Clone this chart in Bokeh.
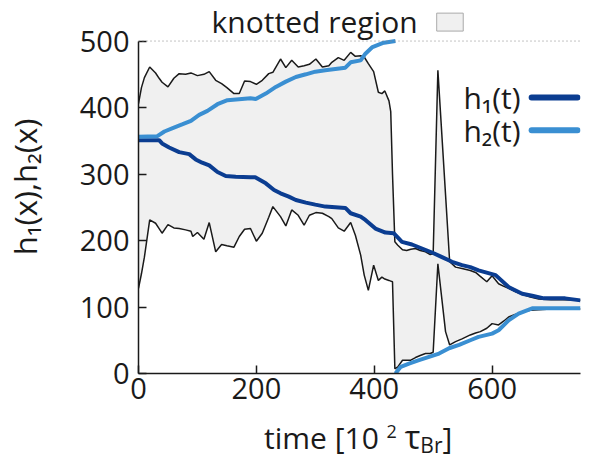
import numpy as np
from bokeh.plotting import figure
from bokeh.models import Range1d, FixedTicker, Span, Label, BoxAnnotation, Div
from bokeh.layouts import column
from bokeh.embed import file_html
from bokeh.resources import INLINE

# ---------------- data ----------------
X_TICKS = [0, 200, 400, 600]
Y_TICKS = [0, 100, 200, 300, 400, 500]

# knotted region boundaries (time in 10^2 tau_Br)
t_region = [0, 5, 10, 19, 29, 35, 40, 50, 60, 69,
            80, 89, 92, 100, 111, 120, 131, 141, 150, 162,
            171, 180, 190, 200, 210, 221, 228, 241, 250, 260,
            271, 281, 290, 301, 312, 323, 328, 339, 349, 360,
            368, 377, 383, 390, 399, 407, 413, 418, 425, 428,
            431, 435, 440, 448, 455, 462, 470, 478, 487, 495,
            500, 508, 521, 528, 538, 549, 563, 572, 580, 591,
            600, 611, 620, 628, 640, 651, 665, 679, 700, 720,
            750]
region_upper = [406, 430, 445, 461, 452, 444, 438, 431, 444, 451,
                450, 452, 451, 448, 450, 454, 441, 436, 430, 421,
                421, 440, 439, 435, 441, 451, 453, 473, 460, 471,
                461, 463, 465, 473, 461, 463, 468, 475, 471, 483,
                477, 478, 476, 466, 454, 423, 421, 425, 410, 394,
                300, 198, 193, 186, 185, 187, 188, 185, 183, 179,
                180, 456, 269, 168, 160, 158, 155, 152, 146, 138,
                147, 135, 131, 128, 123, 119, 115, 112, 111, 111,
                110]
region_lower = [128, 150, 175, 231, 226, 218, 211, 224, 219, 218,
                216, 214, 206, 212, 202, 227, 183, 194, 192, 190,
                206, 217, 218, 199, 211, 235, 251, 236, 222, 246,
                238, 223, 238, 242, 241, 236, 233, 219, 214, 227,
                208, 178, 148, 125, 163, 140, 145, 142, 140, 139,
                138, 7, 10, 20, 20, 20, 24, 27, 30, 30,
                32, 165, 63, 43, 48, 52, 58, 61, 63, 68,
                75, 73, 79, 85, 89, 93, 95, 96, 97, 97,
                97]

# h1(t)
t_h1 = [0, 35, 40, 52, 69, 86, 97, 108, 120, 134,
        148, 165, 190, 198, 216, 230, 241, 255, 267, 284,
        300, 317, 351, 360, 377, 385, 402, 419, 433, 447,
        464, 481, 498, 515, 532, 549, 563, 577, 606, 628,
        651, 668, 688, 724, 750]
h1 = [351, 351, 346, 340, 333, 330, 322, 317, 313, 303,
      297, 296, 295, 295, 286, 276, 271, 266, 261, 257,
      254, 251, 249, 241, 236, 231, 218, 212, 211, 198,
      194, 188, 182, 175, 168, 163, 160, 155, 148, 130,
      120, 117, 113, 113, 110]

# h2(t), periodic in 500
t_h2 = [0, 32, 44, 58, 75, 89, 103, 117, 134, 151,
        190, 199, 216, 233, 250, 267, 284, 300, 317, 351,
        360, 377, 385, 397, 414, 436, 436, 445, 459, 476,
        493, 510, 527, 544, 563, 577, 600, 611, 628, 645,
        668, 750]
h2 = [356, 357, 364, 369, 375, 380, 389, 395, 405, 411,
      414, 413, 421, 431, 439, 446, 450, 454, 456, 460,
      468, 471, 481, 491, 497, 500, 0, 10, 15, 20,
      25, 30, 38, 43, 50, 55, 60, 65, 80, 90,
      98, 98]
PERIOD = 500

# ---------------- styles ----------------
FONT = "Open Sans"
TXT = "#1a1a1a"
C_H1 = "#0b3d91"
C_H2 = "#3a8fd2"
C_FILL = "#f0f0f0"


def break_wrap(t, v, period):
    xs, ys = [], []
    for i, (a, b) in enumerate(zip(t, v)):
        if i and abs(b - v[i - 1]) > period / 2:
            xs.append(np.nan)
            ys.append(np.nan)
        xs.append(a)
        ys.append(b)
    return xs, ys


p = figure(width=602, height=424,
           x_range=Range1d(0, 750), y_range=Range1d(0, 561),
           output_backend="svg", toolbar_location=None,
           min_border_left=138, min_border_right=22,
           min_border_top=0, min_border_bottom=51)
p.outline_line_color = None
p.grid.visible = False
p.background_fill_color = "white"

p.varea(x=t_region, y1=region_lower, y2=region_upper, fill_color=C_FILL)
p.line(t_region, region_upper, line_color=TXT, line_width=1.5)
p.line(t_region, region_lower, line_color=TXT, line_width=1.5)
p.line(t_h1, h1, line_color=C_H1, line_width=4)
x2, y2 = break_wrap(t_h2, h2, PERIOD)
p.line(x2, y2, line_color=C_H2, line_width=4)

p.add_layout(Span(location=500, dimension="width", line_color="#888888",
                  line_dash="1 3", line_width=1))

for ax, ticks, bounds in ((p.xaxis, X_TICKS, (0, 750)), (p.yaxis, Y_TICKS, (0, 500))):
    ax.ticker = FixedTicker(ticks=ticks)
    ax.bounds = bounds
    ax.major_tick_in = 8
    ax.major_tick_out = 0
    ax.minor_tick_in = 0
    ax.minor_tick_out = 0
    ax.axis_line_width = 1.5
    ax.axis_line_color = TXT
    ax.major_tick_line_width = 1.5
    ax.major_tick_line_color = TXT
    ax.major_label_text_font = FONT
    ax.major_label_text_font_size = "29px"
    ax.major_label_text_color = TXT

p.xaxis.major_label_standoff = 4
p.yaxis.major_label_standoff = 9
p.yaxis.axis_label = "h₁(x),h₂(x)"
p.yaxis.axis_label_text_font = FONT
p.yaxis.axis_label_text_font_size = "31px"
p.yaxis.axis_label_text_font_style = "normal"
p.yaxis.axis_label_text_color = TXT
p.yaxis.axis_label_standoff = 31

# legend h1 / h2
LEG_X0, LEG_X1 = 662, 750
LEG_Y = [415, 366]
for yy, col, name in ((LEG_Y[0], C_H1, "h₁(t)"), (LEG_Y[1], C_H2, "h₂(t)")):
    p.add_layout(BoxAnnotation(left=LEG_X0, right=LEG_X1, bottom=yy - 4.5, top=yy + 4.5,
                               fill_color=col, fill_alpha=1, line_color=None,
                               border_radius=4))
    p.add_layout(Label(x=LEG_X0, y=yy, x_offset=-8, text=name, text_font=FONT,
                       text_font_size="30px", text_color=TXT,
                       text_align="right", text_baseline="middle"))

# legend knotted region
p.add_layout(Label(x=124, y=530, text="knotted region", text_font=FONT,
                   text_font_size="30px", text_color=TXT,
                   text_align="left", text_baseline="middle"))
p.add_layout(BoxAnnotation(left=506, right=551, bottom=515, top=542,
                           fill_color=C_FILL, fill_alpha=1,
                           line_color="#aaaaaa", line_width=1, line_alpha=1,
                           line_dash="solid"))

# x-axis label with super/subscript
XLABEL_HTML = (
    '<div style="font-family:\'Open Sans\'; font-size:30px; line-height:30px; '
    'color:#1a1a1a; text-align:left; padding-left:264px; white-space:nowrap; '
    'margin-top:-2px;">'
    'time [10 <span style="font-size:18px; line-height:0; vertical-align:11px;">2</span> '
    '<span style="font-size:33px;">τ</span>'
    '<span style="font-size:21px; line-height:0; vertical-align:-4px;">Br</span>]</div>'
)
xlabel = Div(text=XLABEL_HTML, width=602, height=38, margin=0)

layout = column(p, xlabel, spacing=0)
open("out.html", "w").write(file_html(layout, INLINE))
